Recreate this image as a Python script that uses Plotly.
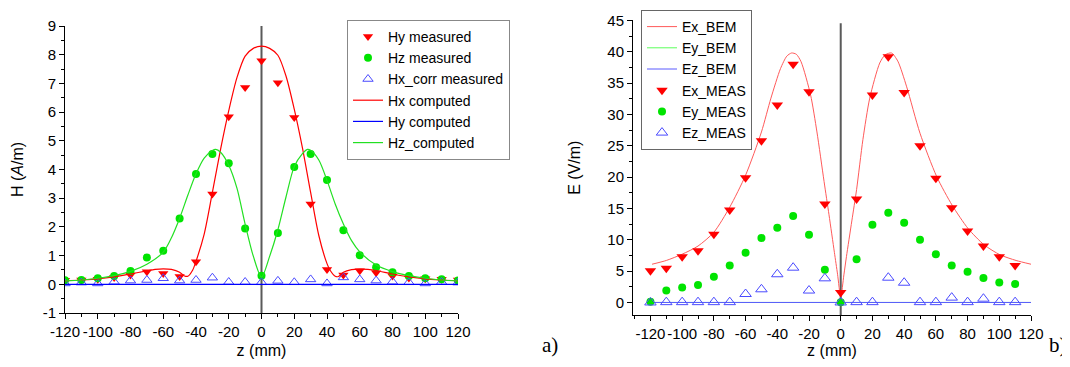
import plotly.graph_objects as go

# ---------------- Panel a) : magnetic field H ----------------
z_meas = [-120, -110, -100, -90, -80, -70, -60, -50, -40, -30, -20, -10, 0,
          10, 20, 30, 40, 50, 60, 70, 80, 90, 100, 110, 120]
hy_meas = [0.14, 0.15, 0.18, 0.24, 0.32, 0.44, 0.38, 0.27, 0.79, 3.15, 5.84, 6.86, 7.79,
           7.02, 5.81, 2.80, 0.52, 0.32, 0.47, 0.40, 0.29, 0.22, 0.19, 0.18, 0.15]
hz_meas = [0.14, 0.15, 0.21, 0.29, 0.46, 0.93, 1.17, 2.29, 3.84, 4.54, 4.22, 1.94, 0.30,
           1.79, 4.09, 4.54, 3.63, 1.88, 1.01, 0.59, 0.42, 0.29, 0.21, 0.18, 0.13]
hx_corr_meas = [0.03, 0.06, 0.03, 0.09, 0.13, 0.15, 0.21, 0.13, 0.15, 0.23, 0.08, 0.08, 0.07,
                0.12, 0.07, 0.17, 0.03, 0.24, 0.17, 0.13, 0.09, 0.07, 0.03, 0.08, 0.06]

z_hx_comp = [-120, -110, -100, -90, -80, -70, -65, -60, -55, -50, -47, -45, -42, -40, -35, -30,
             -25, -20, -15, -10, -5, 0, 5, 10, 15, 20, 25, 30, 35, 40, 42, 45, 47, 50, 55,
             60, 65, 70, 80, 90, 100, 110, 120]
hx_comp = [0.12, 0.15, 0.19, 0.26, 0.36, 0.47, 0.52, 0.54, 0.52, 0.42, 0.29, 0.28, 0.5, 0.8, 1.75, 3.2,
           4.7, 6.05, 7.2, 7.95, 8.22, 8.3, 8.22, 7.98, 7.25, 6.1, 4.75, 3.2, 1.7, 0.72, 0.48, 0.28, 0.27,
           0.42, 0.51, 0.53, 0.52, 0.48, 0.36, 0.26, 0.19, 0.15, 0.12]
z_hy_comp = [-120, 120]
hy_comp = [0.0, 0.0]
z_hz_comp = [-120, -110, -100, -90, -80, -70, -60, -55, -50, -45, -40, -35, -30, -28, -25, -20,
             -15, -10, -5, 0, 5, 10, 15, 20, 25, 28, 30, 35, 40, 45, 50, 55, 60, 70, 80, 90,
             100, 110, 120]
hz_comp = [0.12, 0.15, 0.21, 0.3, 0.45, 0.7, 1.12, 1.62, 2.3, 3.1, 3.85, 4.4, 4.66, 4.7, 4.6, 4.15,
           3.35, 2.1, 0.98, 0.25, 0.98, 1.9, 3.05, 4.1, 4.55, 4.7, 4.67, 4.33, 3.62, 2.8, 2.1, 1.52,
           1.13, 0.67, 0.44, 0.3, 0.21, 0.15, 0.12]

# ---------------- Panel b) : electric field E ----------------
z_e_meas = [-120, -110, -100, -90, -80, -70, -60, -50, -40, -30, -20, -10, 0,
            10, 20, 30, 40, 50, 60, 70, 80, 90, 100, 110]
ex_meas = [5.07, 5.45, 7.3, 8.27, 10.9, 14.75, 19.9, 25.8, 31.5, 38.0, 33.6, 15.7, 1.6,
           16.5, 33.1, 39.2, 33.5, 25.0, 19.8, 15.1, 11.4, 9.0, 7.3, 5.9]
ey_meas = [0.13, 1.9, 2.4, 2.8, 4.1, 5.9, 7.95, 10.3, 11.9, 13.8, 10.8, 5.2, 0.05,
           6.9, 12.4, 14.3, 12.7, 10.0, 7.7, 5.9, 4.9, 3.9, 3.2, 2.95]
ez_meas = [0.0, 0.05, 0.05, 0.05, 0.05, 0.05, 1.35, 2.1, 4.5, 5.55, 1.9, 3.85, 0.0,
           0.05, 0.05, 3.95, 3.15, 0.05, 0.05, 0.77, 0.05, 0.6, 0.05, 0.05]

z_ex_bem = [-119, -110, -100, -90, -80, -70, -60, -50, -44, -38, -34, -31, -28, -25, -19, -15,
            -10.5, -7.4, -4, -2, 0, 2, 3.6, 7, 10, 14, 18.3, 24.6, 28, 32, 36, 41.6, 50, 60.5,
            70.3, 80.3, 90.4, 100.5, 110.6, 120]
ex_bem = [6.1, 6.7, 7.7, 9.0, 11.2, 15.2, 20.3, 27.2, 32.6, 37.3, 39.3, 39.8, 39.6, 38.4, 33.1, 27.2,
          19.3, 14.0, 8.0, 4.5, 0.9, 4.4, 7.3, 13.0, 18.0, 26.0, 32.6, 38.2, 39.5, 39.8, 38.5, 34.4, 27.0,
          20.1, 15.5, 11.8, 9.2, 7.6, 6.7, 6.1]
z_ey_bem = [-120, 120]
ey_bem = [0.0, 0.0]
z_ez_bem = [-120, 120]
ez_bem = [0.0, 0.0]

x_ticks = [-120, -100, -80, -60, -40, -20, 0, 20, 40, 60, 80, 100, 120]
x_tick_text = ["-120", "-100", "-80", "-60", "-40", "-20", "0", "20", "40", "60", "80", "100", "120"]
ha_ticks = [-1, 0, 1, 2, 3, 4, 5, 6, 7, 8, 9]
ha_tick_text = ["-1", "0", "1", "2", "3", "4", "5", "6", "7", "8", "9"]
eb_ticks = [0, 5, 10, 15, 20, 25, 30, 35, 40, 45]

FONT = "Liberation Sans, Arial, sans-serif"
RED, GREEN, BLUE = "#ff0000", "#00e400", "#0000ff"

fig = go.Figure()

# ---- panel a traces ----
fig.add_trace(go.Scatter(x=z_meas, y=hy_meas, mode="markers", name="Hy measured",
                         marker=dict(symbol="triangle-down", size=9, color=RED),
                         xaxis="x", yaxis="y", legend="legend"))
fig.add_trace(go.Scatter(x=z_meas, y=hz_meas, mode="markers", name="Hz measured",
                         marker=dict(symbol="circle", size=8, color=GREEN),
                         xaxis="x", yaxis="y", legend="legend"))
fig.add_trace(go.Scatter(x=z_meas, y=hx_corr_meas, mode="markers", name="Hx_corr measured",
                         marker=dict(symbol="triangle-up-open", size=9, color="#4a4aff",
                                     line=dict(width=1)),
                         xaxis="x", yaxis="y", legend="legend"))
fig.add_trace(go.Scatter(x=z_hx_comp, y=hx_comp, mode="lines", name="Hx computed",
                         line=dict(color=RED, width=1.2, shape="spline", smoothing=0.8),
                         xaxis="x", yaxis="y", legend="legend"))
fig.add_trace(go.Scatter(x=z_hy_comp, y=hy_comp, mode="lines", name="Hy computed",
                         line=dict(color=BLUE, width=1.2),
                         xaxis="x", yaxis="y", legend="legend"))
fig.add_trace(go.Scatter(x=z_hz_comp, y=hz_comp, mode="lines", name="Hz_computed",
                         line=dict(color="#22e022", width=1.2, shape="spline", smoothing=0.8),
                         xaxis="x", yaxis="y", legend="legend"))

# ---- panel b traces ----
fig.add_trace(go.Scatter(x=z_ex_bem, y=ex_bem, mode="lines", name="Ex_BEM",
                         line=dict(color="#ff5a5a", width=1, shape="spline", smoothing=0.7),
                         xaxis="x2", yaxis="y2", legend="legend2"))
fig.add_trace(go.Scatter(x=z_ey_bem, y=ey_bem, mode="lines", name="Ey_BEM",
                         line=dict(color="#5aff5a", width=1),
                         xaxis="x2", yaxis="y2", legend="legend2"))
fig.add_trace(go.Scatter(x=z_ez_bem, y=ez_bem, mode="lines", name="Ez_BEM",
                         line=dict(color="#5a5aff", width=1),
                         xaxis="x2", yaxis="y2", legend="legend2"))
fig.add_trace(go.Scatter(x=z_e_meas, y=ex_meas, mode="markers", name="Ex_MEAS",
                         marker=dict(symbol="triangle-down", size=10, color=RED),
                         xaxis="x2", yaxis="y2", legend="legend2"))
fig.add_trace(go.Scatter(x=z_e_meas, y=ey_meas, mode="markers", name="Ey_MEAS",
                         marker=dict(symbol="circle", size=8, color=GREEN),
                         xaxis="x2", yaxis="y2", legend="legend2"))
fig.add_trace(go.Scatter(x=z_e_meas, y=ez_meas, mode="markers", name="Ez_MEAS",
                         marker=dict(symbol="triangle-up-open", size=10, color="#4a4aff",
                                     line=dict(width=1)),
                         xaxis="x2", yaxis="y2", legend="legend2"))

# The page body has an 8px margin, so the figure is shifted by 8px; compensate,
# and keep the page from overflowing vertically.
OFF = 8
W, H = 1070 - OFF, 367 - 2 * OFF
def px_x(p):
    return (p - OFF) / W
def px_y(p):
    return (H - (p - OFF)) / H

axis_common = dict(showline=True, linecolor="black", linewidth=1, showgrid=False,
                   zeroline=False, ticks="outside", ticklen=5, tickwidth=1,
                   tickcolor="black", tickfont=dict(family=FONT, size=15, color="black"),
                   mirror=False, tickangle=0, automargin=False)

fig.update_layout(
    width=W, height=H,
    margin=dict(l=0, r=0, t=0, b=0, pad=0, autoexpand=False),
    paper_bgcolor="white", plot_bgcolor="white",
    font=dict(family=FONT, size=15, color="black"),
    xaxis=dict(domain=[px_x(65), px_x(458)], range=[-120, 120], tickvals=x_ticks,
               ticktext=x_tick_text,
               minor=dict(ticks="outside", ticklen=3, dtick=10, tick0=0, tickcolor="black"),
               title=dict(text="z (mm)", font=dict(family=FONT, size=16), standoff=7),
               anchor="y", **axis_common),
    yaxis=dict(domain=[px_y(313), px_y(26)], range=[-1, 9], tickvals=ha_ticks,
               ticktext=ha_tick_text,
               minor=dict(ticks="outside", ticklen=3, dtick=0.5, tick0=0, tickcolor="black"),
               title=dict(text="H (<i>A</i>/m)", font=dict(family=FONT, size=16), standoff=15),
               anchor="x", **axis_common),
    xaxis2=dict(domain=[px_x(633), px_x(1031)], range=[-131, 120], tickvals=x_ticks,
                ticktext=x_tick_text,
                minor=dict(ticks="outside", ticklen=3, dtick=10, tick0=0, tickcolor="black"),
                title=dict(text="z (mm)", font=dict(family=FONT, size=16), standoff=8),
                anchor="y2", **axis_common),
    yaxis2=dict(domain=[px_y(315), px_y(20.4)], range=[-2, 45], tickvals=eb_ticks,
                minor=dict(ticks="outside", ticklen=3, dtick=2.5, tick0=0, tickcolor="black"),
                title=dict(text="E (V/m)", font=dict(family=FONT, size=16), standoff=22),
                anchor="x2", **axis_common),
    legend=dict(x=px_x(347), y=px_y(20), xanchor="left", yanchor="top",
                bgcolor="white", bordercolor="#888888", borderwidth=1,
                font=dict(family=FONT, size=14), tracegroupgap=0),
    legend2=dict(x=px_x(641), y=px_y(10), xanchor="left", yanchor="top",
                 bgcolor="white", bordercolor="#666666", borderwidth=1,
                 font=dict(family=FONT, size=14), tracegroupgap=0),
    shapes=[
        dict(type="line", xref="x", yref="y domain", x0=0, x1=0, y0=0, y1=1,
             line=dict(color="#5a5a5a", width=2), layer="below"),
        dict(type="line", xref="x2", yref="y2 domain", x0=0, x1=0, y0=0, y1=0.99,
             line=dict(color="#5a5a5a", width=2), layer="below"),
    ],
    annotations=[
        dict(text="a)", xref="paper", yref="paper", x=px_x(540), y=px_y(359),
             xanchor="left", yanchor="bottom",
             showarrow=False, font=dict(family="Liberation Serif, Times New Roman, serif",
                                        size=21, color="black")),
        dict(text="b)", xref="paper", yref="paper", x=px_x(1047), y=px_y(359),
             xanchor="left", yanchor="bottom",
             showarrow=False, font=dict(family="Liberation Serif, Times New Roman, serif",
                                        size=21, color="black")),
    ],
)

fig.write_html("out.html")
